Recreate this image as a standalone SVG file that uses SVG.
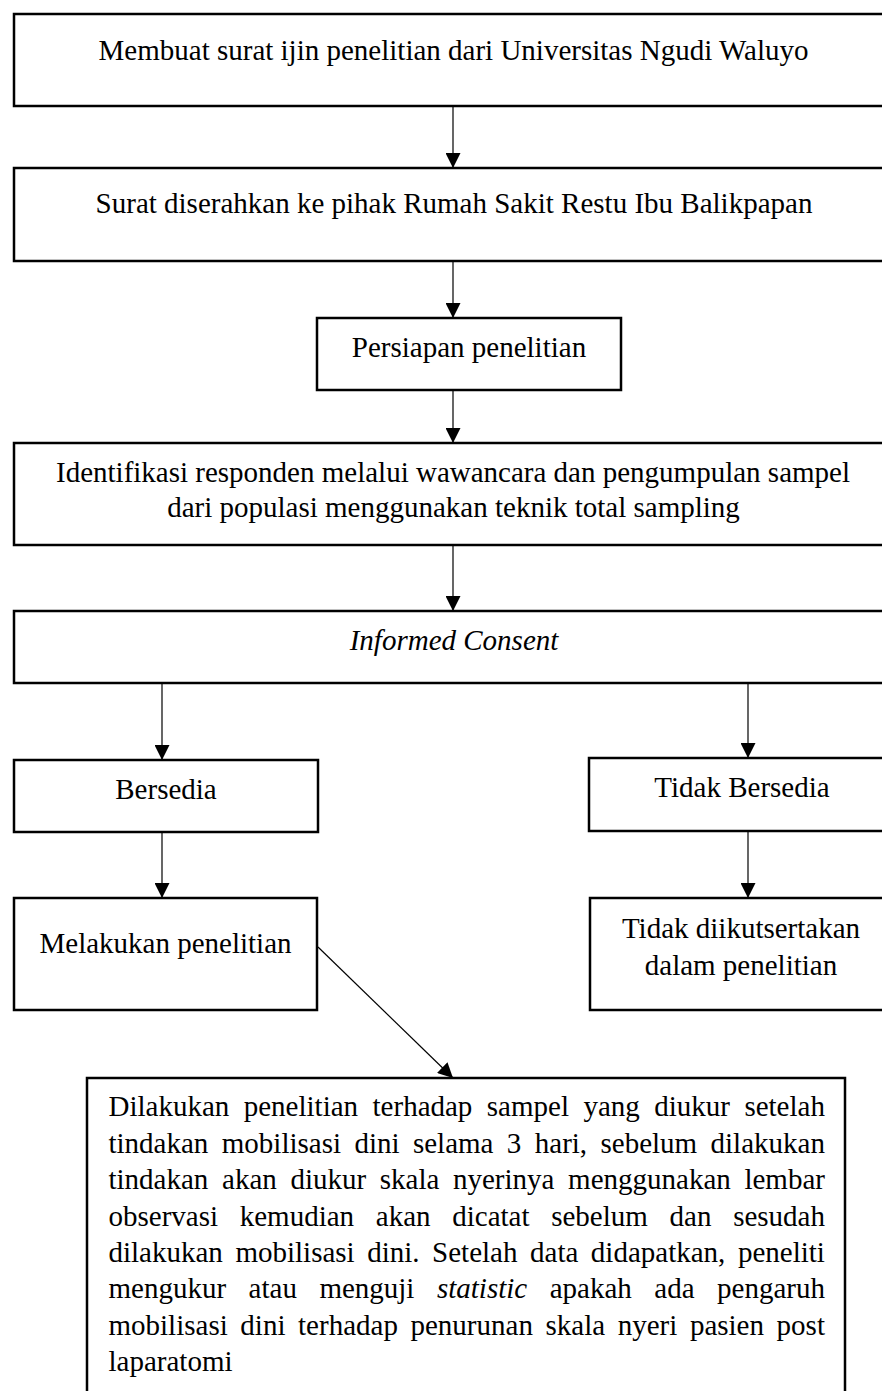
<svg xmlns="http://www.w3.org/2000/svg" width="882" height="1391" viewBox="0 0 882 1391">
<style>
.box{fill:#fff;stroke:#000;stroke-width:2.5}
.t{font-family:"Liberation Serif","Times New Roman",serif;font-size:29px;fill:#000}
.c{text-anchor:middle}
.i{font-style:italic}
.ln{stroke:#000;stroke-width:1.2;fill:none;marker-end:url(#ah)}
</style>
<defs>
<marker id="ah" markerUnits="userSpaceOnUse" markerWidth="15" markerHeight="15" refX="15" refY="7.5" orient="auto" viewBox="0 0 15 15">
<path d="M0,0 L15,7.5 L0,15 z" fill="#000"/>
</marker>
</defs>
<rect width="882" height="1391" fill="#fff"/>
<g id="connectors">
<line class="ln" x1="453" y1="106" x2="453" y2="168"/>
<line class="ln" x1="453" y1="261" x2="453" y2="318"/>
<line class="ln" x1="453" y1="390" x2="453" y2="443"/>
<line class="ln" x1="453" y1="545" x2="453" y2="611"/>
<line class="ln" x1="162" y1="683" x2="162" y2="760"/>
<line class="ln" x1="748" y1="683" x2="748" y2="758"/>
<line class="ln" x1="162" y1="832" x2="162" y2="898"/>
<line class="ln" x1="748" y1="831" x2="748" y2="898"/>
<line class="ln" x1="318" y1="947" x2="453" y2="1078"/>
</g>
<g id="n1">
<rect class="box" x="14" y="14" width="880" height="92"/>
<text class="t c" x="453.5" y="60">Membuat surat ijin penelitian dari Universitas Ngudi Waluyo</text>
</g>
<g id="n2">
<rect class="box" x="14" y="168" width="880" height="93"/>
<text class="t c" x="454" y="213">Surat diserahkan ke pihak Rumah Sakit Restu Ibu Balikpapan</text>
</g>
<g id="n3">
<rect class="box" x="317" y="318" width="304" height="72"/>
<text class="t c" x="469" y="357">Persiapan penelitian</text>
</g>
<g id="n4">
<rect class="box" x="14" y="443" width="880" height="102"/>
<text class="t c" x="453" y="482">Identifikasi responden melalui wawancara dan pengumpulan sampel</text>
<text class="t c" x="453.5" y="517">dari populasi menggunakan teknik total sampling</text>
</g>
<g id="n5">
<rect class="box" x="14" y="611" width="880" height="72"/>
<text class="t c i" x="454" y="650">Informed Consent</text>
</g>
<g id="n6">
<rect class="box" x="14" y="760" width="304" height="72"/>
<text class="t c" x="166" y="799">Bersedia</text>
</g>
<g id="n7">
<rect class="box" x="589" y="758" width="306" height="73"/>
<text class="t c" x="742" y="797">Tidak Bersedia</text>
</g>
<g id="n8">
<rect class="box" x="14" y="898" width="303" height="112"/>
<text class="t c" x="165.5" y="953">Melakukan penelitian</text>
</g>
<g id="n9">
<rect class="box" x="590" y="898" width="305" height="112"/>
<text class="t c" x="741" y="938">Tidak diikutsertakan</text>
<text class="t c" x="741" y="975">dalam penelitian</text>
</g>
<g id="n10">
<rect class="box" x="87" y="1078" width="758" height="330"/>
<text class="t" x="108.5" y="1116" style="word-spacing:7.2px">Dilakukan penelitian terhadap sampel yang diukur setelah</text>
<text class="t" x="108.5" y="1152.5" style="word-spacing:6.16px">tindakan mobilisasi dini selama 3 hari, sebelum dilakukan</text>
<text class="t" x="108.5" y="1189" style="word-spacing:6.4px">tindakan akan diukur skala nyerinya menggunakan lembar</text>
<text class="t" x="108.5" y="1225.5" style="word-spacing:14.45px">observasi kemudian akan dicatat sebelum dan sesudah</text>
<text class="t" x="108.5" y="1262" style="word-spacing:5.3px">dilakukan mobilisasi dini. Setelah data didapatkan, peneliti</text>
<text class="t" x="108.5" y="1298" style="word-spacing:15.25px">mengukur atau menguji <tspan class="i">statistic</tspan> apakah ada pengaruh</text>
<text class="t" x="108.5" y="1334.5" style="word-spacing:5.36px">mobilisasi dini terhadap penurunan skala nyeri pasien post</text>
<text class="t" x="108.5" y="1371">laparatomi</text>
</g>
</svg>
